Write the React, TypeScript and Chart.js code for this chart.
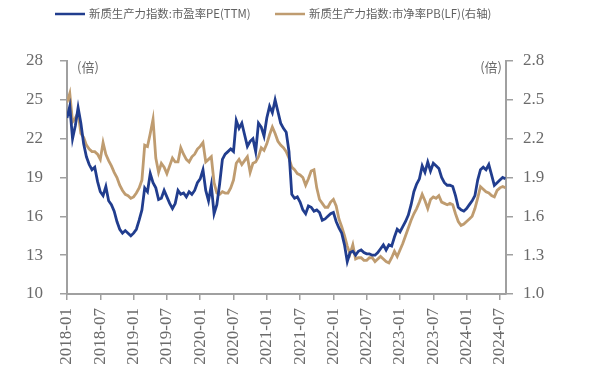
import React, { useEffect, useRef } from "react";
import { Chart, registerables } from "chart.js";

Chart.register(...registerables);

// ---- data ----
const PE_LABEL = "新质生产力指数:市盈率PE(TTM)";
const PB_LABEL = "新质生产力指数:市净率PB(LF)(右轴)";
const UNIT_LABEL = "(倍)";

// x tick labels, one every 6 months starting 2018-01
const TICK_LABELS = [
  "2018-01", "2018-07", "2019-01", "2019-07", "2020-01", "2020-07", "2021-01",
  "2021-07", "2022-01", "2022-07", "2023-01", "2023-07", "2024-01", "2024-07",
];
const MONTHS_PER_TICK = 6;
// one observation every half month from 2018-01
const MONTHS_PER_POINT = 0.5;
const LAST_MONTH = 79.1;

const PE_TICKS = [10, 13, 16, 19, 22, 25, 28];
const PB_TICKS = [1.0, 1.3, 1.6, 1.9, 2.2, 2.5, 2.8];

const PE_VALUES = [
  23.6, 24.5, 22.0, 23.0, 24.4, 23.2, 21.6, 20.6, 20.0, 19.6, 19.8, 18.7,
  17.9, 17.6, 18.3, 17.2, 16.9, 16.4, 15.6, 15.0, 14.7, 14.9, 14.7, 14.5,
  14.7, 15.0, 15.7, 16.5, 18.2, 17.9, 19.3, 18.6, 18.2, 17.3, 17.4, 18.0,
  17.5, 17.0, 16.6, 17.0, 18.0, 17.7, 17.8, 17.5, 17.9, 17.7, 18.0, 18.6,
  18.9, 19.6, 18.0, 17.2, 18.4, 16.2, 16.9, 18.5, 20.4, 20.8, 21.0, 21.2,
  21.0, 23.4, 22.8, 23.2, 22.3, 21.4, 21.8, 22.0, 21.0, 23.2, 22.9, 22.2,
  23.6, 24.5, 24.0, 25.0, 24.1, 23.2, 22.8, 22.5, 21.0, 17.7, 17.4, 17.5,
  17.1, 16.5, 16.2, 16.8, 16.7, 16.4, 16.5, 16.3, 15.7, 15.8, 16.0, 16.2,
  16.3, 15.6, 15.1, 14.7, 13.8, 12.5, 13.2, 13.3, 13.0, 13.3, 13.4, 13.2,
  13.1, 13.1, 13.0, 13.0, 13.2, 13.5, 13.8, 13.4, 13.8, 13.7, 14.4, 15.0,
  14.8, 15.2, 15.6, 16.1, 16.9, 17.9, 18.5, 18.9, 19.9, 19.4, 20.2, 19.5,
  20.1, 19.9, 19.7, 19.0, 18.6, 18.4, 18.4, 18.3, 17.6, 16.7, 16.5, 16.4,
  16.6, 16.9, 17.2, 17.6, 18.8, 19.6, 19.8, 19.6, 20.0, 19.2, 18.4, 18.6,
  18.8, 19.0, 18.9,
];

const PB_VALUES = [
  2.48, 2.55, 2.33, 2.36, 2.40, 2.24, 2.21, 2.15, 2.12, 2.10, 2.10, 2.08,
  2.04, 2.17, 2.08, 2.03, 1.99, 1.94, 1.90, 1.84, 1.80, 1.77, 1.76, 1.74,
  1.75, 1.78, 1.82, 1.88, 2.15, 2.14, 2.24, 2.35, 2.05, 1.94, 2.01, 1.98,
  1.93, 1.99, 2.05, 2.02, 2.02, 2.13, 2.08, 2.04, 2.02, 2.06, 2.08, 2.12,
  2.14, 2.17, 2.02, 2.04, 2.06, 1.86, 1.78, 1.77, 1.79, 1.78, 1.78, 1.82,
  1.88, 2.01, 2.04, 2.00, 2.03, 2.06, 1.94, 2.01, 2.02, 2.06, 2.13, 2.11,
  2.16, 2.23, 2.29, 2.24, 2.18, 2.15, 2.13, 2.10, 2.05, 1.98, 1.96, 1.93,
  1.92, 1.90, 1.84, 1.89, 1.95, 1.96, 1.82, 1.73, 1.70, 1.67, 1.67, 1.71,
  1.73, 1.68, 1.58, 1.52, 1.45, 1.37, 1.31, 1.38, 1.27, 1.28, 1.28, 1.26,
  1.26, 1.28, 1.28, 1.25, 1.27, 1.29, 1.27, 1.25, 1.24, 1.28, 1.33, 1.29,
  1.34, 1.39, 1.45, 1.51, 1.57, 1.62, 1.66, 1.71, 1.77, 1.72, 1.66, 1.73,
  1.75, 1.74, 1.76, 1.71, 1.70, 1.69, 1.70, 1.69, 1.62, 1.56, 1.53, 1.54,
  1.56, 1.58, 1.60, 1.66, 1.74, 1.83, 1.81, 1.79, 1.78, 1.76, 1.75, 1.80,
  1.82, 1.83, 1.82,
];

// ---- styles ----
const PE_COLOR = "#213d8e";
const PB_COLOR = "#bf9c70";
const AXIS_COLOR = "#a0a0a0";
const TEXT_COLOR = "#6b6b6b";
const TICK_FONT = { family: '"Liberation Serif", "DejaVu Serif", serif', size: 17 };
const CJK_FONT = '"Noto Sans CJK SC", "Noto Sans", sans-serif';

const overlayPlugin = {
  id: "overlay",
  afterDraw(chart: any) {
    const ctx = chart.ctx as CanvasRenderingContext2D;
    const area = chart.chartArea;
    ctx.save();
    // legend
    const legendY = 14;
    const items = [
      { label: PE_LABEL, color: PE_COLOR, x: 55 },
      { label: PB_LABEL, color: PB_COLOR, x: 275 },
    ];
    ctx.font = `11.4px ${CJK_FONT}`;
    ctx.textBaseline = "middle";
    ctx.textAlign = "left";
    for (const it of items) {
      ctx.strokeStyle = it.color;
      ctx.lineWidth = 2.5;
      ctx.beginPath();
      ctx.moveTo(it.x, legendY);
      ctx.lineTo(it.x + 30, legendY);
      ctx.stroke();
      ctx.fillStyle = "#606060";
      ctx.fillText(it.label, it.x + 34, legendY);
    }
    // unit labels
    ctx.font = `13px ${CJK_FONT}`;
    ctx.fillStyle = TEXT_COLOR;
    ctx.textAlign = "left";
    ctx.fillText(UNIT_LABEL, area.left + 10, area.top + 6);
    ctx.textAlign = "right";
    ctx.fillText(UNIT_LABEL, area.right - 4, area.top + 6);
    ctx.restore();
  },
};

export default function App() {
  const canvasRef = useRef<HTMLCanvasElement | null>(null);

  useEffect(() => {
    const canvas = canvasRef.current;
    if (!canvas) return;
    const chart = new Chart(canvas, {
      type: "line",
      data: {
        datasets: [
          {
            label: PE_LABEL,
            data: PE_VALUES.map((v, i) => ({ x: i * MONTHS_PER_POINT, y: v })),
            yAxisID: "y",
            borderColor: PE_COLOR,
            backgroundColor: PE_COLOR,
            borderWidth: 2.8,
            pointRadius: 0,
            tension: 0,
          },
          {
            label: PB_LABEL,
            data: PB_VALUES.map((v, i) => ({ x: i * MONTHS_PER_POINT, y: v })),
            yAxisID: "y1",
            borderColor: PB_COLOR,
            backgroundColor: PB_COLOR,
            borderWidth: 2.8,
            pointRadius: 0,
            tension: 0,
          },
        ],
      },
      options: {
        responsive: false,
        animation: false,
        devicePixelRatio: 1,
        layout: { padding: { top: 61, left: 0, right: 0, bottom: 0 } },
        plugins: {
          legend: { display: false },
          tooltip: { enabled: false },
        },
        scales: {
          x: {
            type: "linear",
            min: 0,
            max: LAST_MONTH,
            afterBuildTicks: (s: any) => {
              s.ticks = TICK_LABELS.map((_, i) => ({ value: i * MONTHS_PER_TICK }));
            },
            afterFit: (s: any) => {
              s.height = 84;
            },
            ticks: {
              autoSkip: false,
              minRotation: 90,
              maxRotation: 90,
              padding: 8,
              color: TEXT_COLOR,
              font: TICK_FONT,
              callback: (v: any) => TICK_LABELS[Math.round(Number(v) / MONTHS_PER_TICK)],
            },
            grid: {
              display: true,
              drawOnChartArea: false,
              drawTicks: true,
              tickLength: 6,
              color: AXIS_COLOR,
              lineWidth: 1.5,
            },
            border: { display: true, color: AXIS_COLOR, width: 2 },
          },
          y: {
            type: "linear",
            position: "left",
            min: PE_TICKS[0],
            max: PE_TICKS[PE_TICKS.length - 1],
            afterBuildTicks: (s: any) => {
              s.ticks = PE_TICKS.map((v) => ({ value: v }));
            },
            afterFit: (s: any) => {
              s.width = 67;
            },
            ticks: {
              padding: 17,
              color: TEXT_COLOR,
              font: TICK_FONT,
              callback: (v: any) => String(v),
            },
            grid: {
              display: true,
              drawOnChartArea: false,
              drawTicks: true,
              tickLength: 7,
              color: AXIS_COLOR,
              lineWidth: 1.5,
            },
            border: { display: true, color: AXIS_COLOR, width: 2 },
          },
          y1: {
            type: "linear",
            position: "right",
            min: PB_TICKS[0],
            max: PB_TICKS[PB_TICKS.length - 1],
            afterBuildTicks: (s: any) => {
              s.ticks = PB_TICKS.map((v) => ({ value: v }));
            },
            afterFit: (s: any) => {
              s.width = 94;
            },
            ticks: {
              padding: 10,
              color: TEXT_COLOR,
              font: TICK_FONT,
              callback: (v: any) => Number(v).toFixed(1),
            },
            grid: {
              display: true,
              drawOnChartArea: false,
              drawTicks: true,
              tickLength: 7,
              color: AXIS_COLOR,
              lineWidth: 1.5,
            },
            border: { display: true, color: AXIS_COLOR, width: 2 },
          },
        },
      },
      plugins: [overlayPlugin],
    });
    return () => chart.destroy();
  }, []);

  return (
    <div
      style={{
        position: "fixed",
        left: 0,
        top: 0,
        width: 600,
        height: 378,
        background: "#ffffff",
      }}
    >
      <canvas ref={canvasRef} width={600} height={378} />
    </div>
  );
}
